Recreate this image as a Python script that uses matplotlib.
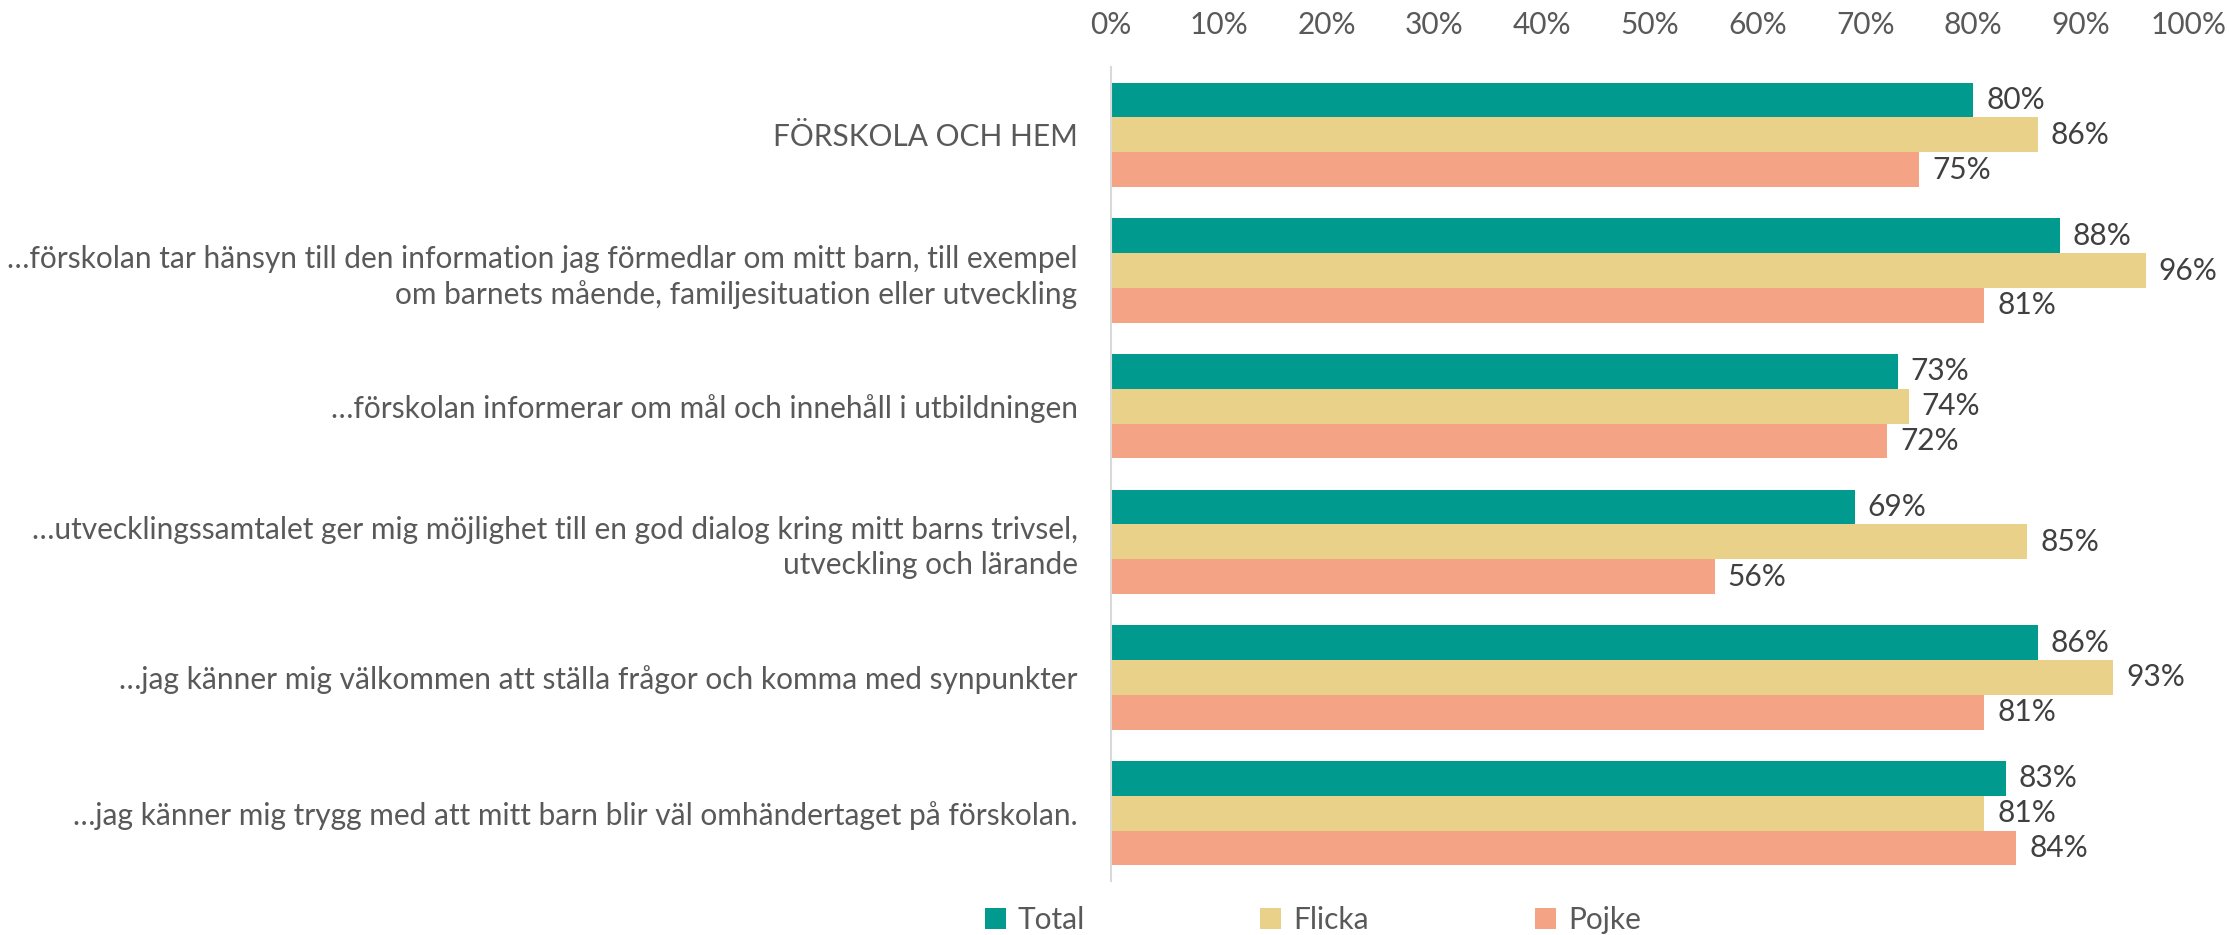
import matplotlib
matplotlib.use("Agg")
import matplotlib.pyplot as plt
import numpy as np
from matplotlib.ticker import PercentFormatter

categories = [
    "FÖRSKOLA OCH HEM",
    "…förskolan tar hänsyn till den information jag förmedlar om mitt barn, till exempel\nom barnets mående, familjesituation eller utveckling",
    "…förskolan informerar om mål och innehåll i utbildningen",
    "…utvecklingssamtalet ger mig möjlighet till en god dialog kring mitt barns trivsel,\nutveckling och lärande",
    "…jag känner mig välkommen att ställa frågor och komma med synpunkter",
    "…jag känner mig trygg med att mitt barn blir väl omhändertaget på förskolan.",
]
series_names = ["Total", "Flicka", "Pojke"]
total = [80, 88, 73, 69, 86, 83]
flicka = [86, 96, 74, 85, 93, 81]
pojke = [75, 81, 72, 56, 81, 84]
colors = ["#009A8E", "#E9D18A", "#F4A385"]

plt.rcParams['font.family'] = ['Lato', 'DejaVu Sans']
FS = 21.5

fig = plt.figure(figsize=(22.29, 9.35), dpi=100)
ax = fig.add_axes([0.4984, 0.0578, 0.4836, 0.8705])

n = len(categories)
y = np.arange(n)
h = 0.257
data = [total, flicka, pojke]
bars = []
for i, (vals, name, c) in enumerate(zip(data, series_names, colors)):
    v = np.array(vals) / 100.0
    ypos = y + (i - 1) * h
    b = ax.barh(ypos, v, height=h, color=c, label=name, edgecolor='none')
    bars.append(b)
    for yy, vv in zip(ypos, v):
        ax.text(vv + 0.012, yy, f"{int(round(vv*100))}%", va='center', ha='left',
                fontsize=FS, color='#404040')

ax.set_ylim(n - 0.5, -0.5)
ax.set_xlim(0, 1)
ax.set_yticks(y)
ax.set_yticklabels(categories, fontsize=FS, color='#595959', ha='right', linespacing=1.3)
ax.tick_params(axis='y', length=0, pad=24)
ax.xaxis.tick_top()
ax.set_xticks(np.arange(0, 1.01, 0.1))
ax.xaxis.set_major_formatter(PercentFormatter(1.0, decimals=0))
ax.tick_params(axis='x', length=0, labelsize=FS, labelcolor='#595959', pad=20)
for s in ['top', 'right', 'bottom']:
    ax.spines[s].set_visible(False)
ax.spines['left'].set_color('#D9D9D9')
ax.spines['left'].set_linewidth(1.5)

legend_x = [0.4419, 0.5653, 0.6887]
for b, name, lx in zip(bars, series_names, legend_x):
    fig.legend([b], [name], loc='center left', bbox_to_anchor=(lx, 0.016),
               frameon=False, fontsize=FS, handlelength=0.7, handleheight=0.7,
               handletextpad=0.4, borderpad=0, borderaxespad=0, labelcolor='#595959')

fig.savefig("out.png", dpi=100)
